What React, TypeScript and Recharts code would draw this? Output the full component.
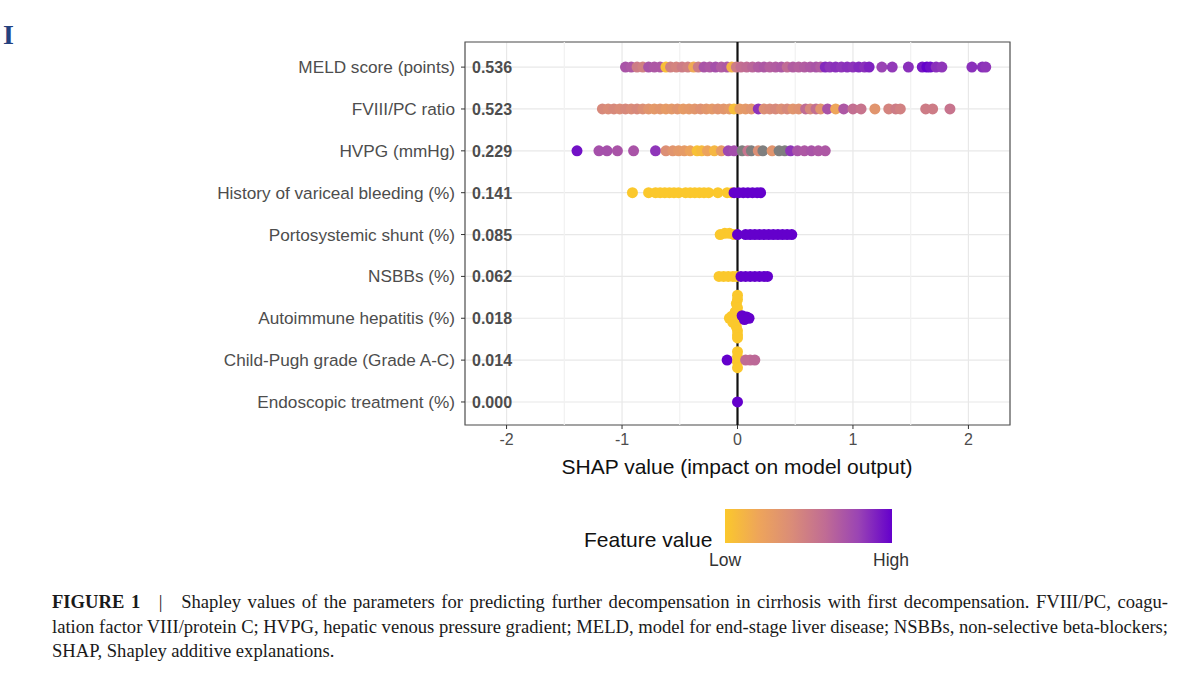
import React from 'react'
import { ScatterChart, Scatter, XAxis, YAxis, CartesianGrid, ReferenceLine, ReferenceArea } from 'recharts'

// features top to bottom, with mean |SHAP|
const features = [
  'MELD score (points)',
  'FVIII/PC ratio',
  'HVPG (mmHg)',
  'History of variceal bleeding (%)',
  'Portosystemic shunt (%)',
  'NSBBs (%)',
  'Autoimmune hepatitis (%)',
  'Child-Pugh grade (Grade A-C)',
  'Endoscopic treatment (%)',
]
const importance = ['0.536', '0.523', '0.229', '0.141', '0.085', '0.062', '0.018', '0.014', '0.000']

// each point: [shap value, feature value 0..1 (-1 = missing), vertical jitter in rows]
const meld = [
  [-0.97, 0.72, 0], [-0.92, 0.7, 0], [-0.87, 0.5, 0], [-0.82, 0.47, 0], [-0.77, 0.72, 0], [-0.72, 0.7, 0],
  [-0.67, 0.7, 0], [-0.62, 0.05, 0], [-0.58, 0.47, 0], [-0.53, 0.45, 0], [-0.48, 0.5, 0], [-0.43, 0.47, 0],
  [-0.38, 0.18, 0], [-0.34, 0.5, 0], [-0.29, 0.72, 0], [-0.24, 0.7, 0], [-0.19, 0.74, 0], [-0.14, 0.68, 0],
  [-0.09, 0.7, 0], [-0.05, 0.12, 0], [-0.01, 0.5, 0], [0.03, 0.58, 0], [0.08, 0.6, 0], [0.13, 0.63, 0],
  [0.18, 0.68, 0], [0.23, 0.7, 0], [0.28, 0.66, 0], [0.33, 0.68, 0], [0.38, 0.7, 0], [0.43, 0.6, 0],
  [0.48, 0.68, 0], [0.53, 0.66, 0], [0.58, 0.68, 0], [0.63, 0.7, 0], [0.68, 0.72, 0], [0.72, 0.68, 0],
  [0.76, 0.88, 0], [0.8, 0.84, 0], [0.85, 0.86, 0], [0.9, 0.84, 0], [0.95, 0.86, 0], [1.0, 0.85, 0],
  [1.05, 0.88, 0], [1.1, 0.86, 0], [1.14, 0.9, 0], [1.25, 0.8, 0], [1.34, 0.83, 0], [1.48, 0.86, 0],
  [1.6, 0.93, 0], [1.64, 1.0, 0], [1.67, 0.96, 0], [1.72, 0.86, 0], [1.77, 0.84, 0], [2.03, 0.86, 0],
  [2.12, 0.86, 0], [2.15, 0.84, 0],
]
const fviii = [
  [-1.17, 0.42, 0], [-1.12, 0.4, 0], [-1.07, 0.42, 0], [-1.02, 0.4, 0], [-0.97, 0.42, 0], [-0.92, 0.4, 0],
  [-0.87, 0.42, 0], [-0.82, 0.38, 0], [-0.77, 0.33, 0], [-0.72, 0.3, 0], [-0.67, 0.32, 0], [-0.62, 0.28, 0],
  [-0.57, 0.3, 0], [-0.52, 0.33, 0], [-0.47, 0.28, 0], [-0.42, 0.3, 0], [-0.37, 0.32, 0], [-0.32, 0.35, 0],
  [-0.27, 0.32, 0], [-0.22, 0.3, 0], [-0.17, 0.34, 0], [-0.12, 0.32, 0], [-0.07, 0.3, 0], [-0.03, 0.06, 0],
  [0.02, 0.28, 0], [0.07, 0.3, 0], [0.12, 0.33, 0], [0.18, 0.85, 0], [0.23, 0.38, 0], [0.28, 0.4, 0],
  [0.33, 0.42, 0], [0.38, 0.38, 0], [0.43, 0.42, 0], [0.48, 0.33, 0], [0.53, 0.35, 0], [0.59, 0.6, 0],
  [0.63, 0.42, 0], [0.68, 0.58, 0], [0.72, 0.33, 0], [0.78, 0.72, 0], [0.85, 0.2, 0], [0.92, 0.7, 0],
  [1.0, 0.58, 0], [1.07, 0.55, 0], [1.19, 0.33, 0], [1.31, 0.45, 0], [1.37, 0.5, 0], [1.41, 0.47, 0],
  [1.63, 0.5, 0], [1.69, 0.5, 0], [1.84, 0.55, 0],
]
const hvpg = [
  [-1.39, 0.95, 0], [-1.2, 0.74, 0], [-1.13, 0.74, 0], [-1.04, 0.72, 0], [-0.9, 0.72, 0], [-0.71, 0.84, 0],
  [-0.62, 0.38, 0], [-0.56, 0.33, 0], [-0.51, 0.3, 0], [-0.46, 0.28, 0], [-0.41, 0.22, 0], [-0.35, 0.04, 0],
  [-0.31, 0.08, 0], [-0.26, 0.22, 0], [-0.2, 0.1, 0], [-0.14, 0.28, 0], [-0.08, 0.78, 0], [-0.03, 0.75, 0],
  [0.04, -1, 0], [0.09, 0.55, 0], [0.12, -1, 0], [0.18, 0.38, 0], [0.22, -1, 0], [0.3, 0.33, 0],
  [0.36, -1, 0], [0.41, -1, 0], [0.46, 0.84, 0], [0.52, 0.72, 0], [0.58, 0.7, 0], [0.64, 0.72, 0],
  [0.7, 0.7, 0], [0.76, 0.7, 0],
]
const bleeding = [
  [-0.91, 0, 0], [-0.77, 0, 0], [-0.71, 0, 0], [-0.67, 0, 0], [-0.63, 0, 0], [-0.59, 0, 0], [-0.55, 0, 0],
  [-0.51, 0, 0], [-0.45, 0, 0], [-0.41, 0, 0], [-0.37, 0, 0], [-0.33, 0, 0], [-0.29, 0, 0], [-0.25, 0, 0],
  [-0.17, 0, 0], [-0.09, 0, 0], [-0.05, 0, 0], [-0.03, 1, 0], [0.01, 1, 0], [0.05, 1, 0], [0.09, 1, 0],
  [0.13, 1, 0], [0.17, 1, 0], [0.2, 1, 0],
]
const shunt = [
  [-0.15, 0, 0], [-0.11, 0, 0.03], [-0.07, 0, 0.03], [-0.03, 0, 0], [0.0, 1, 0], [0.07, 1, 0], [0.11, 1, 0],
  [0.15, 1, 0], [0.19, 1, 0], [0.23, 1, 0], [0.27, 1, 0], [0.31, 1, 0], [0.35, 1, 0], [0.39, 1, 0],
  [0.43, 1, 0], [0.47, 1, 0],
]
const nsbb = [
  [-0.16, 0, 0], [-0.12, 0, 0], [-0.08, 0, 0], [-0.04, 0, 0], [-0.01, 0, 0], [0.03, 1, 0], [0.07, 1, 0],
  [0.11, 1, 0], [0.15, 1, 0], [0.19, 1, 0], [0.23, 1, 0], [0.26, 1, 0],
]
const autoimmune = [
  [0.0, 0, 0.55], [0.0, 0, 0.45], [-0.01, 0, 0.35], [0.0, 0, 0.25], [-0.02, 0, 0.15], [-0.05, 0, 0.05],
  [-0.07, 0, 0], [-0.03, 0, 0], [0.0, 0, -0.05], [-0.04, 0, -0.1], [-0.01, 0, -0.2], [0.0, 0, -0.3],
  [0.0, 0, -0.4], [0.0, 0, -0.47], [0.04, 1, 0.06], [0.08, 1, 0.03], [0.1, 1, 0.0], [0.06, 1, -0.03],
]
const childPugh = [
  [-0.09, 1, 0], [0.0, 0, 0.2], [0.0, 0, 0.08], [0.0, 0, -0.05], [0.0, 0, -0.18], [0.07, 0.6, 0],
  [0.11, 0.6, 0], [0.15, 0.62, 0],
]
const endoscopic = [[0.0, 1, 0]]

const rowPoints = [meld, fviii, hvpg, bleeding, shunt, nsbb, autoimmune, childPugh, endoscopic]

const xTicks = [-2, -1, 0, 1, 2]
const xMinor = [-1.5, -0.5, 0.5, 1.5]
const yTicks = [1, 2, 3, 4, 5, 6, 7, 8, 9]
const xDomain = [-2.36, 2.36]
const yDomain = [0.45, 9.6]

const colorStops = ['#FBC82C', '#EEA55A', '#DA8C78', '#C06C94', '#9A44B4', '#6400CC']

const hexToRgb = (h: string) => [1, 3, 5].map(i => parseInt(h.slice(i, i + 2), 16))

const featureColor = (v: number) => {
  if (v < 0) return '#7F7F7F'
  const t = Math.min(Math.max(v, 0), 1) * (colorStops.length - 1)
  const i = Math.min(Math.floor(t), colorStops.length - 2)
  const f = t - i
  const a = hexToRgb(colorStops[i])
  const b = hexToRgb(colorStops[i + 1])
  const c = a.map((ch, k) => Math.round(ch + (b[k] - ch) * f))
  return `rgb(${c[0]},${c[1]},${c[2]})`
}

const rows = rowPoints.map((pts, idx) =>
  pts.map(([x, v, dy]) => ({ x, y: features.length - idx + dy, v }))
)

const Dot = (props: any) => {
  const { cx, cy, payload } = props
  if (cx == null || cy == null) return null
  return <circle cx={cx} cy={cy} r={5.5} fill={featureColor(payload.v)} />
}

const FeatureTick = (props: any) => {
  const { x, y, payload } = props
  const i = features.length - payload.value
  return (
    <g>
      <text x={x} y={y} dy={6} textAnchor="end" fill="#4D4D4D" fontSize={17.2}>
        {features[i]}
      </text>
      <text x={x + 17} y={y} dy={6} textAnchor="start" fill="#4D4D4D" fontSize={16} fontWeight="bold">
        {importance[i]}
      </text>
    </g>
  )
}

const gradient = `linear-gradient(to right, ${colorStops.join(', ')})`

export default function App() {
  return (
    <div
      style={{
        position: 'absolute',
        left: 0,
        top: 0,
        width: 1200,
        height: 674,
        background: '#fff',
        overflow: 'hidden',
        fontFamily: '"Liberation Sans", Arial, sans-serif',
      }}
    >
      <div
        style={{
          position: 'absolute',
          left: 3,
          top: 21,
          fontFamily: '"Liberation Serif", serif',
          fontWeight: 'bold',
          fontSize: 28,
          lineHeight: '28px',
          color: '#23417F',
        }}
      >
        I
      </div>

      <div style={{ position: 'absolute', left: 0, top: 0 }}>
        <ScatterChart width={1200} height={480} margin={{ top: 42, right: 190, left: 215, bottom: 25 }}>
          <CartesianGrid stroke="#E8E8E8" strokeWidth={1.2} />
          {xMinor.map(m => (
            <ReferenceLine key={m} x={m} stroke="#F1F1F1" strokeWidth={1.2} />
          ))}
          <XAxis
            type="number"
            dataKey="x"
            domain={xDomain}
            ticks={xTicks}
            allowDataOverflow
            axisLine={false}
            tickLine={{ stroke: '#333' }}
            tickSize={4}
            tickMargin={5}
            tick={{ fill: '#4D4D4D', fontSize: 16 }}
            height={30}
          />
          <YAxis
            type="number"
            dataKey="y"
            domain={yDomain}
            ticks={yTicks}
            allowDataOverflow
            axisLine={false}
            tickLine={{ stroke: '#333' }}
            tickSize={4}
            tickMargin={6}
            tick={<FeatureTick />}
            width={250}
          />
          {rows.map((data, i) => (
            <Scatter key={i} data={data} shape={<Dot />} isAnimationActive={false} />
          ))}
          <ReferenceLine x={0} stroke="#111" strokeWidth={2.2} />
          <ReferenceArea
            x1={xDomain[0]}
            x2={xDomain[1]}
            y1={yDomain[0]}
            y2={yDomain[1]}
            fill="none"
            stroke="#555"
            strokeWidth={1.2}
          />
        </ScatterChart>
      </div>

      <div
        style={{
          position: 'absolute',
          left: 537,
          top: 454,
          width: 400,
          textAlign: 'center',
          fontSize: 21,
          lineHeight: '26px',
          color: '#111',
          whiteSpace: 'nowrap',
        }}
      >
        SHAP value (impact on model output)
      </div>

      <div style={{ position: 'absolute', left: 584, top: 527, fontSize: 21, lineHeight: '26px', color: '#111' }}>
        Feature value
      </div>
      <div style={{ position: 'absolute', left: 725, top: 509, width: 167, height: 34, background: gradient }} />
      <div
        style={{ position: 'absolute', left: 685, top: 550, width: 80, textAlign: 'center', fontSize: 17.5, lineHeight: '20px', color: '#333' }}
      >
        Low
      </div>
      <div
        style={{ position: 'absolute', left: 851, top: 550, width: 80, textAlign: 'center', fontSize: 17.5, lineHeight: '20px', color: '#333' }}
      >
        High
      </div>

      <div
        style={{
          position: 'absolute',
          left: 52,
          top: 590,
          width: 1116,
          fontFamily: '"Liberation Serif", serif',
          fontSize: 18.6,
          lineHeight: '24.5px',
          color: '#1a1a1a',
        }}
      >
        <div style={{ textAlign: 'justify', textAlignLast: 'justify', whiteSpace: 'nowrap' }}>
          <b>FIGURE 1</b>{'\u2003'}|{'\u2003'}Shapley values of the parameters for predicting further decompensation in cirrhosis with first decompensation. FVIII/PC, coagu-
        </div>
        <div style={{ textAlign: 'justify', textAlignLast: 'justify', whiteSpace: 'nowrap' }}>
          lation factor VIII/protein C; HVPG, hepatic venous pressure gradient; MELD, model for end-stage liver disease; NSBBs, non-selective beta-blockers;
        </div>
        <div>SHAP, Shapley additive explanations.</div>
      </div>
    </div>
  )
}
